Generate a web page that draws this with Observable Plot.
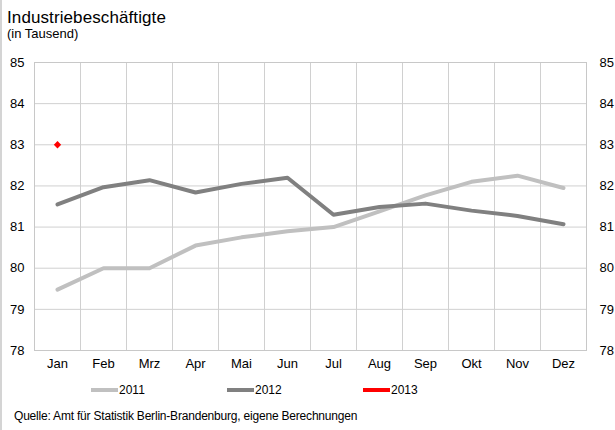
<!DOCTYPE html>
<html>
<head>
<meta charset="utf-8">
<script src="https://cdn.jsdelivr.net/npm/d3@7"></script>
<script src="https://cdn.jsdelivr.net/npm/@observablehq/plot@0.6"></script>
<style>
  html, body { margin: 0; padding: 0; background: #fff; }
  #wrap { position: relative; width: 615px; height: 430px; overflow: hidden; font-family: "Liberation Sans", Arial, sans-serif; color: #000; }
  #border { position: absolute; left: 0; top: 0; width: 2px; height: 430px; background: #d4d4d4; }
  .t { position: absolute; white-space: nowrap; line-height: 1; }
  #title { left: 7px; top: 9px; font-size: 17px; letter-spacing: 0.1px; }
  #subtitle { left: 7px; top: 27px; font-size: 13px; }
  #chart { position: absolute; left: 0; top: 48px; }
  #legend { position: absolute; left: 0; top: 383px; width: 615px; height: 14px; font-size: 12px; }
  .li { position: absolute; top: 0; display: flex; align-items: center; height: 14px; }
  .sw { width: 27px; height: 4px; margin-right: 1px; }
  #caption { left: 14px; top: 409.8px; font-size: 12px; letter-spacing: -0.2px; }
</style>
</head>
<body>
<div id="wrap">
  <div id="border"></div>
  <div class="t" id="title">Industriebeschäftigte</div>
  <div class="t" id="subtitle">(in Tausend)</div>
  <div id="chart"></div>
  <div id="legend"></div>
  <div class="t" id="caption">Quelle: Amt für Statistik Berlin-Brandenburg, eigene Berechnungen</div>
</div>
<script>
const months = ["Jan","Feb","Mrz","Apr","Mai","Jun","Jul","Aug","Sep","Okt","Nov","Dez"];
const values2011 = [79.48, 80.0, 80.0, 80.55, 80.75, 80.9, 81.0, 81.38, 81.77, 82.1, 82.25, 81.95];
const values2012 = [81.55, 81.97, 82.14, 81.84, 82.05, 82.2, 81.3, 81.49, 81.57, 81.4, 81.27, 81.07];
const values2013 = [83.0];
const seriesNames = ["2011", "2012", "2013"];
const seriesColors = ["#c0c0c0", "#808080", "#ff0000"];
const yTicks = [78, 79, 80, 81, 82, 83, 84, 85];

const toRows = (vals, name) => vals.map((v, i) => ({month: months[i], idx: i + 0.5, value: v, series: name}));
const d2011 = toRows(values2011, "2011");
const d2012 = toRows(values2012, "2012");
const d2013 = toRows(values2013, "2013");

const monthCenters = months.map((m, i) => i + 0.5);
const monthEdges = d3.range(months.length + 1);
const yFmt = d3.format("d");

const chart = Plot.plot({
  width: 615,
  height: 330,
  marginTop: 14,
  marginBottom: 28,
  marginLeft: 34,
  marginRight: 29,
  style: {fontFamily: "'Liberation Sans', Arial, sans-serif", fontSize: "13px", color: "#000", background: "transparent"},
  x: {type: "linear", domain: [0, months.length]},
  y: {domain: [78, 85]},
  marks: [
    Plot.ruleX(monthEdges, {stroke: "#d0d0d0", strokeWidth: 1}),
    Plot.ruleY(yTicks, {stroke: "#d0d0d0", strokeWidth: 1}),
    Plot.frame({stroke: "#c8c8c8", strokeWidth: 1}),
    Plot.axisY({anchor: "left", ticks: yTicks, tickFormat: yFmt, tickSize: 0, tickPadding: 10, label: null, fill: "#000"}),
    Plot.axisY({anchor: "right", ticks: yTicks, tickFormat: yFmt, tickSize: 0, tickPadding: 13, label: null, fill: "#000"}),
    Plot.axisX({ticks: monthCenters, tickFormat: (d) => months[Math.floor(d)], tickSize: 0, tickPadding: 8, label: null, fill: "#000"}),
    Plot.line(d2011, {x: "idx", y: "value", stroke: seriesColors[0], strokeWidth: 4, strokeLinejoin: "round", strokeLinecap: "round"}),
    Plot.line(d2012, {x: "idx", y: "value", stroke: seriesColors[1], strokeWidth: 4, strokeLinejoin: "round", strokeLinecap: "round"}),
    Plot.dot(d2013, {x: "idx", y: "value", symbol: "diamond2", fill: seriesColors[2], stroke: "none", r: 3.3})
  ]
});
document.getElementById("chart").appendChild(chart);

const legend = document.getElementById("legend");
const legendX = [91, 227, 363];
seriesNames.forEach((name, i) => {
  const item = document.createElement("div");
  item.className = "li";
  item.style.left = legendX[i] + "px";
  const sw = document.createElement("div");
  sw.className = "sw";
  sw.style.background = seriesColors[i];
  const lab = document.createElement("span");
  lab.textContent = name;
  item.appendChild(sw);
  item.appendChild(lab);
  legend.appendChild(item);
});
</script>
</body>
</html>
